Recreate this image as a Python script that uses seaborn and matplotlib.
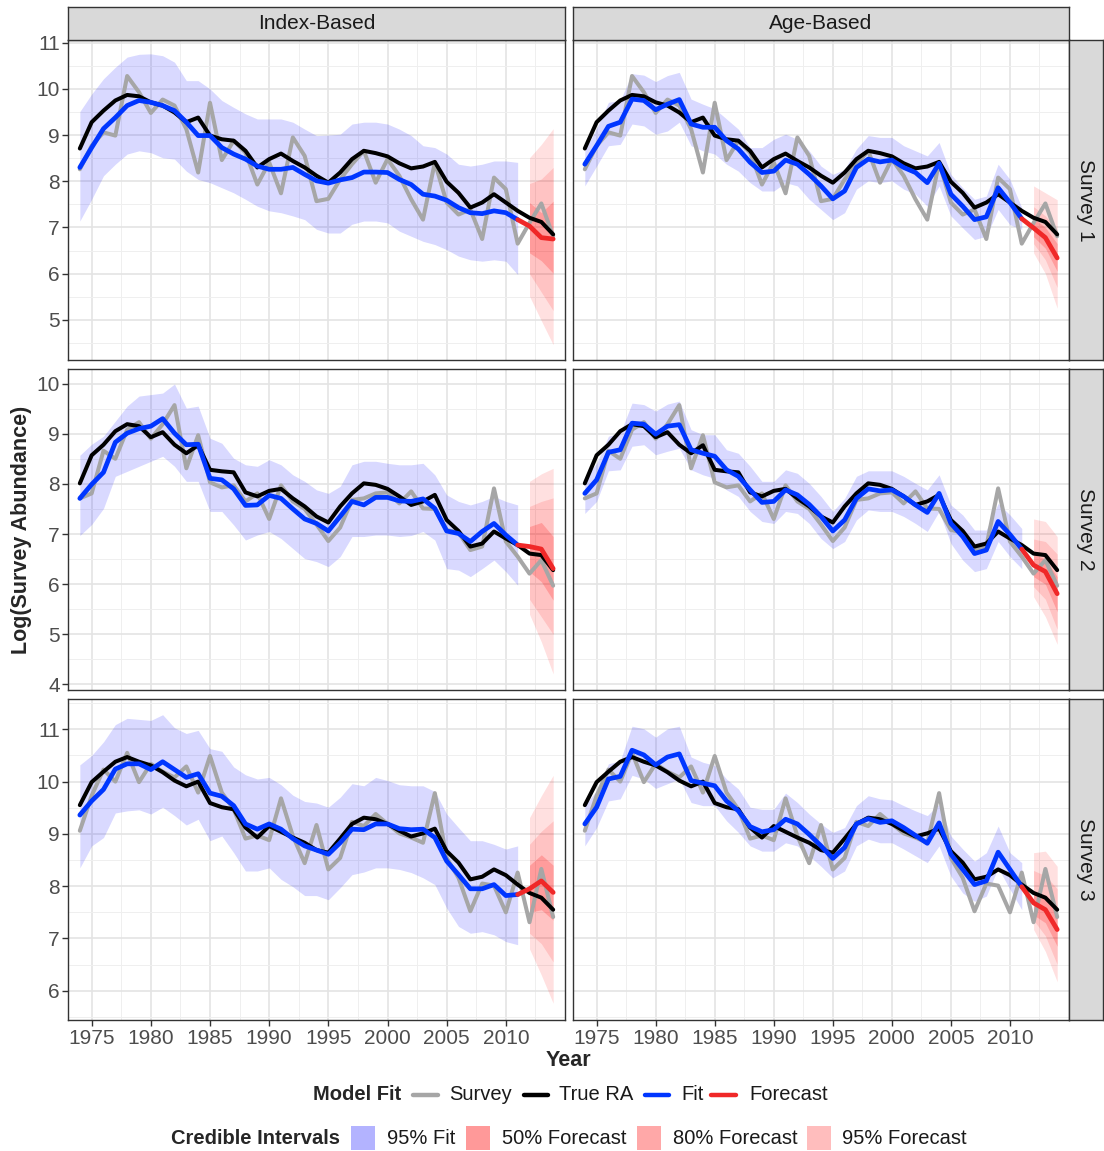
import numpy as np
import matplotlib
matplotlib.use("Agg")
import matplotlib.pyplot as plt
import seaborn as sns
from matplotlib.lines import Line2D
from matplotlib.patches import Rectangle
from matplotlib.ticker import MultipleLocator

sns.set_theme(style="white")
plt.rcParams['font.family'] = ['Liberation Sans', 'DejaVu Sans']

# ---------------------------------------------------------------- data
years = np.arange(1974, 2015)        # survey / true abundance years
fit_years = np.arange(1974, 2012)    # model fit years
fc_years = np.arange(2011, 2015)     # forecast line (joins the fit at 2011)
band_years = np.arange(2012, 2015)   # forecast credible intervals

col_titles = ["Index-Based", "Age-Based"]
row_titles = ["Survey 1", "Survey 2", "Survey 3"]

# Survey 1
s1_survey = [8.26, 8.77, 9.06, 8.99, 10.28, 9.93, 9.48, 9.77, 9.64, 9.13, 8.19, 9.70, 8.46, 8.88,
             8.62, 7.93, 8.41, 7.74, 8.95, 8.55, 7.57, 7.62, 8.04, 8.37, 8.66, 7.97, 8.48, 8.12,
             7.61, 7.17, 8.41, 7.54, 7.28, 7.39, 6.75, 8.08, 7.83, 6.65, 7.10, 7.52, 6.81]
s1_true = [8.71, 9.28, 9.53, 9.75, 9.87, 9.84, 9.71, 9.64, 9.49, 9.28, 9.38, 8.99, 8.91, 8.88,
           8.66, 8.30, 8.48, 8.60, 8.44, 8.30, 8.12, 7.97, 8.19, 8.48, 8.66, 8.61, 8.54, 8.39,
           8.28, 8.32, 8.42, 7.99, 7.75, 7.43, 7.54, 7.72, 7.54, 7.36, 7.21, 7.12, 6.85]
s1_idx_fit = [8.30, 8.73, 9.14, 9.38, 9.64, 9.75, 9.71, 9.64, 9.53, 9.28, 8.99, 8.99, 8.73, 8.59,
              8.48, 8.33, 8.26, 8.26, 8.30, 8.15, 8.01, 7.96, 8.03, 8.08, 8.20, 8.20, 8.19, 8.04,
              7.93, 7.72, 7.68, 7.59, 7.43, 7.32, 7.30, 7.36, 7.32, 7.17]
s1_idx_lo = [7.14, 7.61, 8.12, 8.37, 8.59, 8.66, 8.62, 8.51, 8.48, 8.22, 8.04, 7.97, 7.86, 7.75,
             7.61, 7.46, 7.36, 7.32, 7.25, 7.17, 6.96, 6.88, 6.88, 7.07, 7.14, 7.14, 7.10, 6.92,
             6.81, 6.70, 6.63, 6.52, 6.38, 6.30, 6.27, 6.30, 6.27, 5.98]
s1_idx_hi = [9.51, 9.89, 10.22, 10.47, 10.69, 10.75, 10.76, 10.72, 10.58, 10.18, 10.18, 10.00, 9.75,
             9.60, 9.46, 9.35, 9.35, 9.35, 9.28, 9.13, 8.99, 9.00, 9.02, 9.24, 9.28, 9.28, 9.24,
             9.13, 8.99, 8.77, 8.73, 8.59, 8.37, 8.33, 8.37, 8.44, 8.44, 8.41]
s1_idx_fc = [7.17, 7.03, 6.78, 6.75]
s1_idx_fc50_lo = [6.45, 6.28, 6.01]
s1_idx_fc50_hi = [7.54, 7.32, 7.57]
s1_idx_fc80_lo = [6.00, 5.60, 5.20]
s1_idx_fc80_hi = [7.95, 8.05, 8.30]
s1_idx_fc95_lo = [5.51, 4.98, 4.46]
s1_idx_fc95_hi = [8.51, 8.80, 9.14]

s1_age_fit = [8.37, 8.77, 9.19, 9.28, 9.78, 9.75, 9.55, 9.67, 9.77, 9.24, 9.17, 9.17, 8.88, 8.70,
              8.41, 8.19, 8.22, 8.46, 8.37, 8.15, 7.90, 7.62, 7.79, 8.30, 8.48, 8.42, 8.46, 8.30,
              8.19, 7.97, 8.39, 7.72, 7.46, 7.17, 7.23, 7.86, 7.54, 7.19]
s1_age_lo = [7.90, 8.33, 8.77, 8.80, 9.24, 9.20, 9.02, 9.09, 9.28, 8.77, 8.66, 8.59, 8.37, 8.22,
             7.97, 7.79, 7.79, 7.97, 7.90, 7.61, 7.39, 7.17, 7.32, 7.83, 8.01, 7.97, 8.01, 7.83,
             7.72, 7.46, 7.90, 7.25, 6.99, 6.74, 6.81, 7.39, 7.06, 6.96]
s1_age_hi = [8.66, 9.15, 9.71, 9.75, 10.33, 10.30, 10.16, 10.29, 10.36, 9.78, 9.67, 9.57, 9.35,
             9.13, 8.73, 8.73, 8.91, 9.02, 8.91, 8.66, 8.33, 8.15, 8.26, 8.70, 8.99, 8.95, 8.95,
             8.77, 8.66, 8.55, 8.84, 8.15, 7.86, 7.61, 7.68, 8.37, 8.04, 7.43]
s1_age_fc = [7.19, 6.99, 6.78, 6.34]
s1_age_fc50_lo = [6.80, 6.55, 6.05]
s1_age_fc50_hi = [7.20, 7.00, 6.65]
s1_age_fc80_lo = [6.65, 6.30, 5.70]
s1_age_fc80_hi = [7.45, 7.25, 6.95]
s1_age_fc95_lo = [6.45, 6.00, 5.25]
s1_age_fc95_hi = [7.90, 7.75, 7.60]

# Survey 2
s2_survey = [7.71, 7.81, 8.66, 8.50, 9.08, 9.23, 8.90, 9.19, 9.57, 8.31, 8.97, 8.03, 7.93, 7.97,
             7.65, 7.81, 7.30, 7.97, 7.65, 7.50, 7.19, 6.86, 7.13, 7.68, 7.71, 7.81, 7.83, 7.61,
             7.85, 7.51, 7.50, 7.08, 7.03, 6.68, 6.75, 7.91, 6.85, 6.55, 6.21, 6.48, 5.97]
s2_true = [8.01, 8.57, 8.78, 9.05, 9.19, 9.15, 8.93, 9.03, 8.78, 8.61, 8.77, 8.28, 8.25, 8.23,
           7.83, 7.75, 7.86, 7.90, 7.71, 7.55, 7.35, 7.23, 7.55, 7.81, 8.01, 7.98, 7.90, 7.75,
           7.58, 7.65, 7.78, 7.28, 7.06, 6.75, 6.81, 7.05, 6.91, 6.78, 6.61, 6.58, 6.28]
s2_idx_fit = [7.71, 7.99, 8.23, 8.83, 9.01, 9.10, 9.15, 9.30, 9.01, 8.78, 8.79, 8.11, 8.08, 7.90,
              7.57, 7.58, 7.77, 7.71, 7.50, 7.30, 7.21, 7.06, 7.35, 7.65, 7.58, 7.73, 7.73, 7.66,
              7.65, 7.70, 7.51, 7.06, 7.01, 6.85, 7.05, 7.21, 6.98, 6.78]
s2_idx_lo = [6.97, 7.19, 7.51, 8.15, 8.25, 8.35, 8.45, 8.55, 8.35, 8.05, 8.05, 7.45, 7.45, 7.18,
             6.88, 6.98, 7.05, 6.91, 6.71, 6.51, 6.45, 6.35, 6.55, 6.95, 6.95, 6.98, 6.98, 6.95,
             6.97, 7.05, 6.88, 6.31, 6.28, 6.15, 6.31, 6.48, 6.25, 5.98]
s2_idx_hi = [8.57, 8.79, 8.95, 9.25, 9.55, 9.75, 9.78, 9.81, 9.99, 9.51, 9.55, 8.91, 8.81, 8.51,
             8.38, 8.35, 8.48, 8.38, 8.18, 8.05, 7.88, 7.81, 7.95, 8.38, 8.45, 8.45, 8.41, 8.38,
             8.38, 8.41, 8.18, 7.78, 7.65, 7.58, 7.65, 7.75, 7.65, 7.58]
s2_idx_fc = [6.78, 6.75, 6.70, 6.31]
s2_idx_fc50_lo = [6.25, 6.05, 5.68]
s2_idx_fc50_hi = [7.15, 7.23, 6.95]
s2_idx_fc80_lo = [5.70, 5.35, 5.00]
s2_idx_fc80_hi = [7.55, 7.65, 7.72]
s2_idx_fc95_lo = [5.40, 4.85, 4.21]
s2_idx_fc95_hi = [8.05, 8.20, 8.31]

s2_age_fit = [7.81, 8.08, 8.63, 8.68, 9.21, 9.19, 8.99, 9.15, 9.18, 8.68, 8.61, 8.55, 8.28, 8.15,
              7.88, 7.63, 7.65, 7.88, 7.78, 7.59, 7.35, 7.06, 7.28, 7.71, 7.90, 7.86, 7.88, 7.75,
              7.58, 7.43, 7.81, 7.21, 6.95, 6.61, 6.68, 7.25, 6.99, 6.70]
s2_age_lo = [7.41, 7.65, 8.26, 8.28, 8.75, 8.78, 8.58, 8.65, 8.71, 8.28, 8.18, 8.11, 7.88, 7.75,
             7.45, 7.25, 7.21, 7.45, 7.41, 7.21, 6.91, 6.71, 6.85, 7.28, 7.48, 7.45, 7.45, 7.35,
             7.21, 7.05, 7.45, 6.81, 6.48, 6.25, 6.31, 6.85, 6.55, 6.31]
s2_age_hi = [8.11, 8.41, 8.95, 9.01, 9.61, 9.58, 9.45, 9.59, 9.65, 9.08, 8.98, 8.98, 8.68, 8.61,
             8.35, 8.05, 8.05, 8.28, 8.21, 8.01, 7.75, 7.45, 7.71, 8.15, 8.26, 8.26, 8.26, 8.15,
             8.01, 7.88, 8.18, 7.58, 7.38, 7.08, 7.08, 7.61, 7.38, 7.11]
s2_age_fc = [6.70, 6.38, 6.25, 5.81]
s2_age_fc50_lo = [6.15, 6.00, 5.45]
s2_age_fc50_hi = [6.60, 6.50, 6.15]
s2_age_fc80_lo = [5.95, 5.70, 5.10]
s2_age_fc80_hi = [6.90, 6.85, 6.60]
s2_age_fc95_lo = [5.75, 5.35, 4.80]
s2_age_fc95_hi = [7.30, 7.25, 6.95]

# Survey 3
s3_survey = [9.06, 9.73, 10.23, 10.00, 10.55, 9.99, 10.34, 10.19, 10.08, 10.29, 9.79, 10.49, 9.79,
             9.47, 8.91, 8.97, 8.88, 9.68, 8.96, 8.44, 9.17, 8.32, 8.54, 9.23, 9.15, 9.38, 9.19,
             9.01, 8.93, 8.83, 9.78, 8.54, 8.16, 7.52, 8.05, 8.01, 7.50, 8.26, 7.31, 8.33, 7.41]
s3_true = [9.55, 9.99, 10.19, 10.38, 10.47, 10.38, 10.31, 10.18, 10.02, 9.91, 10.00, 9.59, 9.51,
           9.47, 9.12, 8.93, 9.15, 9.04, 8.93, 8.83, 8.69, 8.64, 8.91, 9.19, 9.31, 9.28, 9.19,
           9.06, 8.95, 9.01, 9.10, 8.67, 8.45, 8.13, 8.18, 8.32, 8.21, 8.03, 7.87, 7.78, 7.55]
s3_idx_fit = [9.36, 9.63, 9.85, 10.24, 10.34, 10.34, 10.23, 10.38, 10.23, 10.08, 10.15, 9.78, 9.72,
              9.54, 9.19, 9.09, 9.19, 9.09, 8.91, 8.77, 8.69, 8.61, 8.83, 9.09, 9.08, 9.19, 9.19,
              9.10, 9.08, 9.09, 8.93, 8.48, 8.22, 7.95, 7.95, 8.03, 7.82, 7.84]
s3_idx_lo = [8.35, 8.77, 8.93, 9.40, 9.44, 9.46, 9.38, 9.51, 9.35, 9.17, 9.28, 8.87, 8.96, 8.64,
             8.29, 8.29, 8.35, 8.13, 7.99, 7.82, 7.82, 7.74, 7.97, 8.22, 8.27, 8.35, 8.35, 8.32,
             8.26, 8.16, 8.03, 7.58, 7.23, 7.10, 7.13, 7.07, 6.94, 6.88]
s3_idx_hi = [10.32, 10.50, 10.76, 11.09, 11.21, 11.19, 11.17, 11.28, 11.03, 10.92, 10.98, 10.63,
             10.58, 10.28, 10.13, 10.05, 10.08, 9.94, 9.74, 9.62, 9.59, 9.51, 9.70, 9.96, 9.92,
             10.08, 10.02, 9.94, 9.92, 9.92, 9.81, 9.38, 9.12, 8.87, 8.87, 8.80, 8.71, 8.77]
s3_idx_fc = [7.84, 7.95, 8.10, 7.88]
s3_idx_fc50_lo = [7.50, 7.55, 7.35]
s3_idx_fc50_hi = [8.40, 8.60, 8.40]
s3_idx_fc80_lo = [7.10, 6.90, 6.55]
s3_idx_fc80_hi = [8.80, 9.05, 9.25]
s3_idx_fc95_lo = [6.80, 6.30, 5.76]
s3_idx_fc95_hi = [9.31, 9.73, 10.12]

s3_age_fit = [9.19, 9.51, 10.05, 10.10, 10.60, 10.51, 10.32, 10.47, 10.53, 10.02, 9.97, 9.92, 9.63,
              9.44, 9.14, 9.04, 9.08, 9.28, 9.19, 8.99, 8.77, 8.53, 8.74, 9.19, 9.29, 9.22, 9.25,
              9.12, 8.97, 8.82, 9.21, 8.61, 8.32, 8.03, 8.10, 8.65, 8.32, 7.99]
s3_age_lo = [8.77, 9.12, 9.63, 9.67, 10.12, 10.05, 9.87, 9.96, 10.05, 9.60, 9.54, 9.54, 9.25, 9.03,
             8.77, 8.67, 8.67, 8.83, 8.77, 8.58, 8.38, 8.16, 8.29, 8.77, 8.90, 8.83, 8.83, 8.71,
             8.58, 8.45, 8.77, 8.19, 7.87, 7.71, 7.81, 8.35, 7.94, 7.55]
s3_age_hi = [9.54, 9.83, 10.34, 10.40, 11.06, 11.01, 10.85, 11.01, 11.06, 10.47, 10.37, 10.31,
             10.05, 9.86, 9.51, 9.47, 9.47, 9.78, 9.60, 9.38, 9.19, 9.03, 9.12, 9.54, 9.73, 9.67,
             9.65, 9.54, 9.44, 9.35, 9.57, 8.96, 8.71, 8.48, 8.64, 9.15, 8.64, 8.45]
s3_age_fc = [7.99, 7.68, 7.55, 7.17]
s3_age_fc50_lo = [7.45, 7.30, 6.85]
s3_age_fc50_hi = [7.90, 7.80, 7.50]
s3_age_fc80_lo = [7.35, 7.05, 6.50]
s3_age_fc80_hi = [8.30, 8.20, 7.95]
s3_age_fc95_lo = [7.17, 6.75, 6.17]
s3_age_fc95_hi = [8.64, 8.67, 8.38]

panels = {
    (0, 0): (s1_survey, s1_true, s1_idx_fit, s1_idx_lo, s1_idx_hi, s1_idx_fc,
             [(s1_idx_fc95_lo, s1_idx_fc95_hi), (s1_idx_fc80_lo, s1_idx_fc80_hi), (s1_idx_fc50_lo, s1_idx_fc50_hi)]),
    (0, 1): (s1_survey, s1_true, s1_age_fit, s1_age_lo, s1_age_hi, s1_age_fc,
             [(s1_age_fc95_lo, s1_age_fc95_hi), (s1_age_fc80_lo, s1_age_fc80_hi), (s1_age_fc50_lo, s1_age_fc50_hi)]),
    (1, 0): (s2_survey, s2_true, s2_idx_fit, s2_idx_lo, s2_idx_hi, s2_idx_fc,
             [(s2_idx_fc95_lo, s2_idx_fc95_hi), (s2_idx_fc80_lo, s2_idx_fc80_hi), (s2_idx_fc50_lo, s2_idx_fc50_hi)]),
    (1, 1): (s2_survey, s2_true, s2_age_fit, s2_age_lo, s2_age_hi, s2_age_fc,
             [(s2_age_fc95_lo, s2_age_fc95_hi), (s2_age_fc80_lo, s2_age_fc80_hi), (s2_age_fc50_lo, s2_age_fc50_hi)]),
    (2, 0): (s3_survey, s3_true, s3_idx_fit, s3_idx_lo, s3_idx_hi, s3_idx_fc,
             [(s3_idx_fc95_lo, s3_idx_fc95_hi), (s3_idx_fc80_lo, s3_idx_fc80_hi), (s3_idx_fc50_lo, s3_idx_fc50_hi)]),
    (2, 1): (s3_survey, s3_true, s3_age_fit, s3_age_lo, s3_age_hi, s3_age_fc,
             [(s3_age_fc95_lo, s3_age_fc95_hi), (s3_age_fc80_lo, s3_age_fc80_hi), (s3_age_fc50_lo, s3_age_fc50_hi)]),
}

# ---------------------------------------------------------------- style
C_SURVEY = "#A6A6A6"
C_TRUE = "#000000"
C_FIT = "#0036FF"
C_FC = "#F02828"
FIT_BAND = ("#0000FF", 0.15)
FC_ALPHAS = [0.12, 0.13, 0.20]       # 95%, 80%, 50% forecast intervals
BORDER = "#333333"
STRIP_BG = "#D9D9D9"

W, H = 1104, 1151
fig = plt.figure(figsize=(W / 100, H / 100), dpi=100)


def fx(px):
    return px / W


def fy(py):
    return 1 - py / H


col_x = [(68, 565), (573, 1069)]
row_y = [(40, 360), (369, 690), (699, 1020)]
ylims = [(4.13, 11.06), (3.89, 10.29), (5.44, 11.58)]
yticks = [range(5, 12), range(4, 11), range(6, 12)]
xticks = range(1975, 2011, 5)

for (r, c), (survey, true, fit, lo, hi, fc, bands) in panels.items():
    x0, x1 = col_x[c]
    y0, y1 = row_y[r]
    ax = fig.add_axes([fx(x0), fy(y1), fx(x1) - fx(x0), fy(y0) - fy(y1)])
    ax.set_facecolor("white")

    ax.fill_between(fit_years, lo, hi, color=FIT_BAND[0], alpha=FIT_BAND[1], lw=0)
    for (blo, bhi), a in zip(bands, FC_ALPHAS):
        ax.fill_between(band_years, blo, bhi, color="#FF0000", alpha=a, lw=0)

    sns.lineplot(x=years, y=survey, ax=ax, color=C_SURVEY, lw=2.9, legend=False)
    sns.lineplot(x=years, y=true, ax=ax, color=C_TRUE, lw=2.9, legend=False)
    sns.lineplot(x=fit_years, y=fit, ax=ax, color=C_FIT, lw=3.4, legend=False)
    sns.lineplot(x=fc_years, y=fc, ax=ax, color=C_FC, lw=3.4, legend=False)

    ax.set_xlim(1973, 2015)
    ax.set_ylim(*ylims[r])
    ax.set_xticks(list(xticks))
    ax.set_yticks(list(yticks[r]))
    ax.xaxis.set_minor_locator(MultipleLocator(2.5))
    ax.yaxis.set_minor_locator(MultipleLocator(0.5))
    ax.grid(which="major", color="#E4E4E4", lw=1.2)
    ax.grid(which="minor", color="#EFEFEF", lw=0.7)
    ax.set_axisbelow(True)
    ax.set_xlabel("")
    ax.set_ylabel("")
    for sp in ax.spines.values():
        sp.set_color(BORDER)
        sp.set_linewidth(1.0)
        sp.set_visible(True)

    ax.tick_params(which="minor", length=0)
    ax.tick_params(which="major", length=4, width=1, color=BORDER, labelsize=15,
                   labelcolor="#4D4D4D", pad=2)
    ax.tick_params(axis="y", left=(c == 0), labelleft=(c == 0))
    ax.tick_params(axis="x", bottom=(r == 2), labelbottom=(r == 2), pad=2.5)

# facet strips
for c, title in enumerate(col_titles):
    x0, x1 = col_x[c]
    sax = fig.add_axes([fx(x0), fy(40), fx(x1) - fx(x0), fy(7) - fy(40)])
    sax.set_facecolor(STRIP_BG)
    sax.set_xticks([])
    sax.set_yticks([])
    for sp in sax.spines.values():
        sp.set_color(BORDER)
        sp.set_linewidth(1.0)
    sax.text(0.5, 0.5, title, ha="center", va="center", fontsize=15, color="#1A1A1A",
             transform=sax.transAxes)

for r, title in enumerate(row_titles):
    y0, y1 = row_y[r]
    sax = fig.add_axes([fx(1069), fy(y1), fx(1103) - fx(1069), fy(y0) - fy(y1)])
    sax.set_facecolor(STRIP_BG)
    sax.set_xticks([])
    sax.set_yticks([])
    for sp in sax.spines.values():
        sp.set_color(BORDER)
        sp.set_linewidth(1.0)
    sax.text(0.5, 0.5, title, ha="center", va="center", rotation=-90, fontsize=15,
             color="#1A1A1A", transform=sax.transAxes)

# axis titles
fig.text(fx(568), fy(1060), "Year", ha="center", va="center", fontsize=15.5,
         fontweight="bold")
fig.text(fx(22), fy(530), "Log(Survey Abundance)", ha="center", va="center",
         rotation=90, fontsize=15.5, fontweight="bold")

# legends
ly1 = fy(1095)
fig.text(fx(401), ly1, "Model Fit", ha="right", va="center", fontsize=14.5,
         fontweight="bold")
line_keys = [(413, 438, 449, C_SURVEY, "Survey"), (524, 548, 559, C_TRUE, "True RA"),
             (645, 669, 681, C_FIT, "Fit"), (711, 736, 749, C_FC, "Forecast")]
for k0, k1, tx, col, lab in line_keys:
    fig.add_artist(Line2D([fx(k0), fx(k1)], [ly1, ly1], color=col, lw=3.2,
                          transform=fig.transFigure))
    fig.text(fx(tx), ly1, lab, ha="left", va="center", fontsize=14.5, color="#1A1A1A")

ly2 = fy(1138)
fig.text(fx(340), ly2, "Credible Intervals", ha="right", va="center", fontsize=14.5,
         fontweight="bold")
box_keys = [(351, 387, "#B3B3FF", "95% Fit"), (466, 502, "#FF9999", "50% Forecast"),
            (637, 673, "#FFA8A8", "80% Forecast"), (807, 842, "#FFBDBD", "95% Forecast")]
for k0, tx, col, lab in box_keys:
    fig.add_artist(Rectangle((fx(k0), fy(1150)), fx(24), 24 / H, facecolor=col,
                             edgecolor="none", transform=fig.transFigure))
    fig.text(fx(tx), ly2, lab, ha="left", va="center", fontsize=14.5, color="#1A1A1A")

fig.savefig("out.png", dpi=100)
